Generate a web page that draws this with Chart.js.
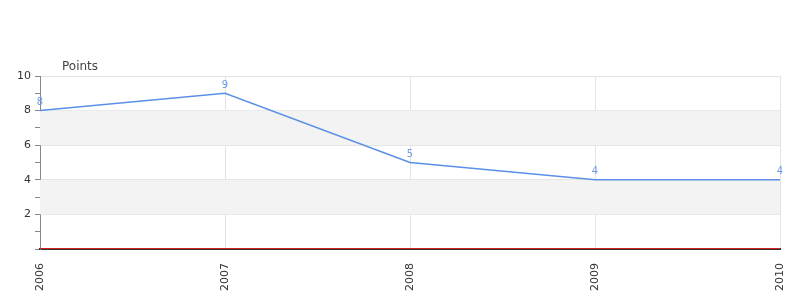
<!DOCTYPE html>
<html>
<head>
<meta charset="utf-8">
<script src="https://cdn.jsdelivr.net/npm/chart.js@4/dist/chart.umd.min.js"></script>
<style>
  body { margin: 0; background: #fff; }
  canvas { display: block; }
</style>
</head>
<body>
<canvas id="myChart" width="800" height="300"></canvas>
<script>
var anos = ['2006', '2007', '2008', '2009', '2010'];
var pontos = [8, 9, 5, 4, 4];
var tituloY = 'Points';

Chart.defaults.font.family = 'DejaVu Sans';
Chart.defaults.font.size = 11;
Chart.defaults.color = '#444';

// faixas cinzas alternadas, titulo, rotulos e linha vermelha do zero
var extras = {
    id: 'extras',
    beforeDatasetsDraw: function (chart) {
        var c = chart.ctx, area = chart.chartArea, y = chart.scales.y;
        c.save();
        c.fillStyle = '#f3f3f3';
        for (var v = 2; v < 10; v += 4) {
            var top = y.getPixelForValue(v + 2), bot = y.getPixelForValue(v);
            c.fillRect(area.left, top, area.right - area.left, bot - top);
        }
        c.restore();
    },
    afterDraw: function (chart) {
        var c = chart.ctx, area = chart.chartArea, y = chart.scales.y;
        var meta = chart.getDatasetMeta(0);
        c.save();
        c.fillStyle = '#444';
        c.font = '12px "DejaVu Sans"';
        c.textBaseline = 'bottom';
        c.fillText(tituloY, area.left + 22, area.top - 3);

        c.fillStyle = '#6f9be8';
        c.font = '10px "DejaVu Sans"';
        c.textAlign = 'center';
        meta.data.forEach(function (p, i) {
            c.fillText(pontos[i], p.x, p.y - 3);
        });

        var y0 = Math.round(y.getPixelForValue(0));
        c.strokeStyle = '#d62020';
        c.lineWidth = 1;
        c.beginPath();
        c.moveTo(area.left, y0 - 0.5);
        c.lineTo(area.right, y0 - 0.5);
        c.stroke();
        c.restore();
    }
};

var ctx = document.getElementById('myChart');
var myChart = new Chart(ctx, {
    type: 'line',
    data: {
        labels: anos,
        datasets: [{
            data: pontos,
            borderColor: '#5b8fe8',
            borderWidth: 1.5,
            pointRadius: 0,
            tension: 0,
            fill: false
        }]
    },
    options: {
        responsive: false,
        animation: false,
        layout: { padding: { top: 76, right: 20, left: 0, bottom: 0 } },
        plugins: {
            legend: { display: false },
            tooltip: { enabled: false }
        },
        scales: {
            x: {
                offset: false,
                afterFit: function (s) { s.height = 51; s.paddingRight = 0; s.paddingLeft = 0; },
                grid: { color: '#e3e3e3', drawTicks: false },
                border: { color: '#333', width: 2 },
                ticks: { minRotation: 90, maxRotation: 90, padding: 14, color: '#333' }
            },
            y: {
                min: 0,
                max: 10,
                afterFit: function (s) { s.width = 40; },
                ticks: {
                    stepSize: 1,
                    padding: 4,
                    color: '#333',
                    callback: function (v) { return (v % 2 === 0 && v !== 0) ? v : ''; }
                },
                grid: {
                    tickLength: 5,
                    tickColor: '#888',
                    color: function (c) { return (c.tick && c.tick.value % 2 === 0) ? '#e3e3e3' : 'rgba(0,0,0,0)'; }
                },
                border: { color: '#888' }
            }
        }
    },
    plugins: [extras]
});
</script>
</body>
</html>
